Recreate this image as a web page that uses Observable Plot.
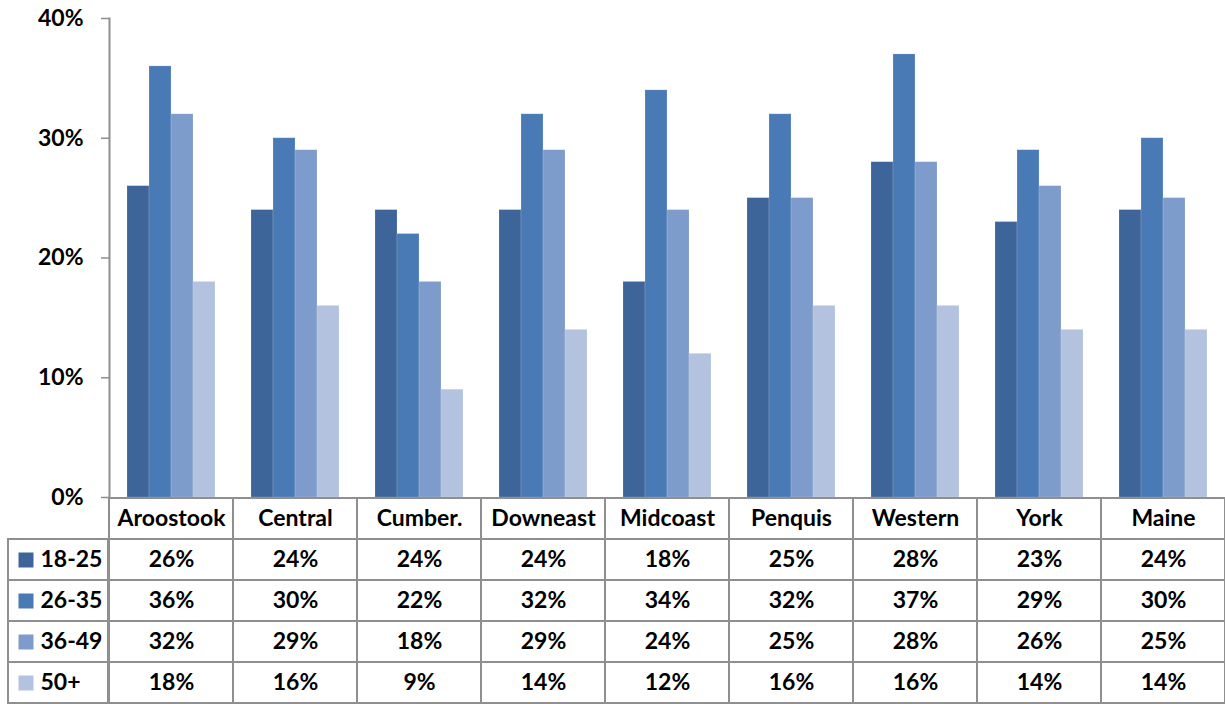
<!DOCTYPE html>
<html><head><meta charset="utf-8">
<script src="https://cdn.jsdelivr.net/npm/d3@7"></script>
<script src="https://cdn.jsdelivr.net/npm/@observablehq/plot@0.6"></script>
<style>
body{margin:0;background:#fff;}
#wrap{position:relative;width:1225px;height:704px;overflow:hidden;font-family:Lato,"Open Sans",sans-serif;}
#table{display:flex;}
svg{display:block;overflow:visible;}
</style></head><body>
<div id="wrap"><div id="chart"></div><div id="table"></div></div>
<script>
const regions = ["Aroostook","Central","Cumber.","Downeast","Midcoast","Penquis","Western","York","Maine"];
const ages = ["18-25","26-35","36-49","50+"];
const v18_25 = [26,24,24,24,18,25,28,23,24];
const v26_35 = [36,30,22,32,34,32,37,29,30];
const v36_49 = [32,29,18,29,24,25,28,26,25];
const v50plus = [18,16,9,14,12,16,16,14,14];
const colors = ["#3D6599","#4A7AB6","#7E9CCB","#B3C2DF"];
const yTicks = [0,10,20,30,40];

const series = [v18_25, v26_35, v36_49, v50plus];
const data = regions.flatMap((r, i) => ages.map((a, j) => ({region: r, age: a, value: series[j][i]})));
const pct = d => d + "%";
const font = {fontFamily: "Lato, 'Open Sans', sans-serif", fontSize: "23px", fontWeight: "bold", color: "#000", overflow: "visible"};
const gridColor = "#8f8f8f";

const chart = Plot.plot({
  width: 1225, height: 497,
  marginTop: 18, marginBottom: 0, marginLeft: 108, marginRight: 0,
  style: font,
  fx: {domain: regions, padding: 0, axis: null},
  x: {domain: ages, paddingInner: 0, paddingOuter: 0.73, axis: null},
  y: {domain: [0, 40], axis: null},
  color: {domain: ages, range: colors},
  marks: [
    Plot.barY(data, {fx: "region", x: "age", y: "value", fill: "age", stroke: "#ffffff", strokeOpacity: 0.25, strokeWidth: 0.6}),
    Plot.axisY({ticks: yTicks, tickFormat: pct, tickSize: 8, tickPadding: 18, stroke: gridColor, strokeWidth: 1.5, fill: "#000", label: null}),
    Plot.frame({anchor: "left", stroke: gridColor, strokeWidth: 2, facetAnchor: "left"})
  ]
});
document.getElementById("chart").appendChild(chart);

const rowKeys = ["name", ...ages];
const headerCells = regions.map(r => ({region: r, row: "name", label: r}));
const valueCells = data.map(d => ({region: d.region, row: d.age, label: pct(d.value)}));
const cells = [...headerCells, ...valueCells];

const legendTable = Plot.plot({
  width: 108, height: 207,
  marginTop: 207 / 5, marginBottom: 0, marginLeft: 8, marginRight: 0,
  style: font,
  x: {domain: ["key"], padding: 0, axis: null},
  y: {domain: ages, padding: 0, axis: null},
  color: {domain: ages, range: colors},
  marks: [
    Plot.cell(ages, {x: () => "key", y: d => d, fill: "#fff", stroke: gridColor, strokeWidth: 2}),
    Plot.dot(ages, {x: () => "key", y: d => d, dx: -32.5, symbol: "square", r: 8.46, fill: d => d}),
    Plot.text(ages, {x: () => "key", y: d => d, dx: -18, text: d => d, textAnchor: "start", fill: "#000"})
  ]
});

const valueTable = Plot.plot({
  width: 1117, height: 207,
  marginTop: 0, marginBottom: 0, marginLeft: 0, marginRight: 0,
  style: font,
  x: {domain: regions, padding: 0, axis: null},
  y: {domain: rowKeys, padding: 0, axis: null},
  marks: [
    Plot.cell(cells, {x: "region", y: "row", fill: "#fff", stroke: gridColor, strokeWidth: 2}),
    Plot.text(cells, {x: "region", y: "row", text: "label", fill: "#000"})
  ]
});
const t = document.getElementById("table");
t.appendChild(legendTable);
t.appendChild(valueTable);
</script>
</body></html>
